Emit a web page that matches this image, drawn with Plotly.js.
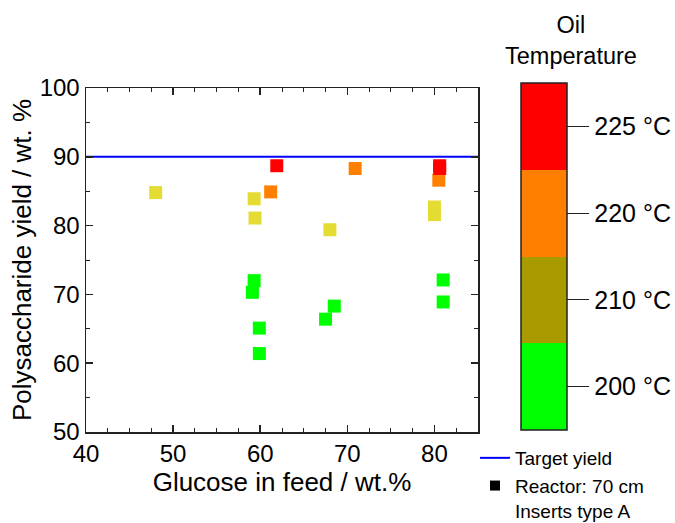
<!DOCTYPE html>
<html>
<head>
<meta charset="utf-8">
<script src="https://cdn.plot.ly/plotly-3.0.1.min.js"></script>
<style>html,body{margin:0;padding:0;background:#fff;}#chart{width:675px;height:523px;}</style>
</head>
<body>
<div id="chart"></div>
<script>
// Data
const glucose = [48.0, 59.3, 59.4, 61.2, 61.9, 70.9, 68.0, 80.5, 80.6, 80.6, 80.0, 80.0, 59.3, 59.1, 59.9, 59.9, 68.5, 67.5, 81.0, 81.0];
const yieldPct = [84.8, 83.9, 81.1, 84.9, 88.7, 88.3, 79.4, 86.6, 88.3, 88.7, 82.7, 81.6, 72.0, 70.3, 65.1, 61.4, 68.3, 66.4, 72.1, 68.9];
const oilTemp = [210, 210, 210, 220, 225, 220, 210, 220, 225, 225, 210, 210, 200, 200, 200, 200, 200, 200, 200, 200];

const tempLevels = [200, 210, 220, 225];
const tempLabels = ['200 °C', '210 °C', '220 °C', '225 °C'];
const markerColors = ['#00FF00', '#E5DC33', '#FF8000', '#FF0000'];
const scaleColors = ['#00FF00', '#A99A00', '#FF8000', '#FF0000'];

const targetYield = 90;
const xRange = [40, 85];
const yRange = [50, 100];

const levelIdx = oilTemp.map(t => tempLevels.indexOf(t));
const colorscale = [];
scaleColors.forEach((c, i) => {
  colorscale.push([i / scaleColors.length, c]);
  colorscale.push([(i + 1) / scaleColors.length, c]);
});

const font = 'Liberation Sans, Arial, sans-serif';

const traces = [
  {
    type: 'scatter', mode: 'lines', name: 'Target yield',
    x: xRange, y: [targetYield, targetYield],
    line: {color: '#0000FF', width: 2}, hoverinfo: 'skip'
  },
  {
    type: 'scatter', mode: 'markers', showlegend: false,
    x: glucose, y: yieldPct,
    marker: {symbol: 'square', size: 13, color: levelIdx.map(i => markerColors[i]), line: {width: 0}}
  },
  {
    type: 'scatter', mode: 'markers', showlegend: false, hoverinfo: 'skip',
    x: glucose, y: yieldPct,
    marker: {
      opacity: 0, size: 1,
      color: levelIdx.map(i => i + 0.5), cmin: 0, cmax: tempLevels.length,
      colorscale: colorscale, showscale: true,
      colorbar: {
        thickness: 46, thicknessmode: 'pixels',
        len: 347, lenmode: 'pixels',
        x: (521 - 86) / 392, xanchor: 'left', xpad: 0,
        y: (432 - 83) / 344, yanchor: 'top', ypad: 0,
        outlinecolor: '#222', outlinewidth: 1.5,
        ticks: 'outside', ticklen: 22, tickwidth: 1, tickcolor: '#222',
        tickvals: tempLevels.map((_, i) => i + 0.5), ticktext: tempLabels,
        tickfont: {family: font, size: 25, color: '#000'}
      }
    }
  },
  {
    type: 'scatter', mode: 'markers', name: 'Reactor: 70 cm<br>Inserts type A',
    x: [null], y: [null],
    marker: {symbol: 'square', size: 10, color: '#000'}
  }
];

const axisCommon = {
  showgrid: false, zeroline: false, showline: true, linecolor: '#222', linewidth: 1.5,
  mirror: 'allticks', ticks: 'inside', ticklen: 7, tickwidth: 1.5, tickcolor: '#222',
  tickfont: {family: font, size: 24, color: '#000'}
};

const layout = {
  width: 675, height: 523,
  margin: {l: 86, r: 197, t: 88, b: 91, autoexpand: false},
  paper_bgcolor: '#fff', plot_bgcolor: '#fff',
  font: {family: font, color: '#000'},
  xaxis: Object.assign({}, axisCommon, {
    range: xRange, tick0: 40, dtick: 10,
    minor: {dtick: 2.5, ticks: 'inside', ticklen: 4, tickwidth: 1, tickcolor: '#222'},
    title: {text: 'Glucose in feed / wt.%', font: {family: font, size: 26, color: '#000'}, standoff: 6}
  }),
  yaxis: Object.assign({}, axisCommon, {
    range: yRange, tick0: 50, dtick: 10,
    minor: {dtick: 5, ticks: 'inside', ticklen: 4, tickwidth: 1, tickcolor: '#222'},
    title: {text: 'Polysaccharide yield / wt. %', font: {family: font, size: 26, color: '#000'}, standoff: 0}
  }),
  showlegend: true,
  legend: {
    x: (475 - 86) / 392, xanchor: 'left', y: (432 - 439) / 344, yanchor: 'top',
    valign: 'top',
    font: {family: font, size: 19, color: '#000'},
    bgcolor: 'rgba(0,0,0,0)', borderwidth: 0, tracegroupgap: 0
  },
  annotations: [{
    xref: 'paper', yref: 'paper', x: (571 - 86) / 392, y: (432 - 41) / 344,
    xanchor: 'center', yanchor: 'middle', showarrow: false,
    text: 'Oil<br>Temperature', align: 'center',
    font: {family: font, size: 23.5, color: '#000'}
  }]
};

Plotly.newPlot('chart', traces, layout, {displayModeBar: false, staticPlot: true});
</script>
</body>
</html>
